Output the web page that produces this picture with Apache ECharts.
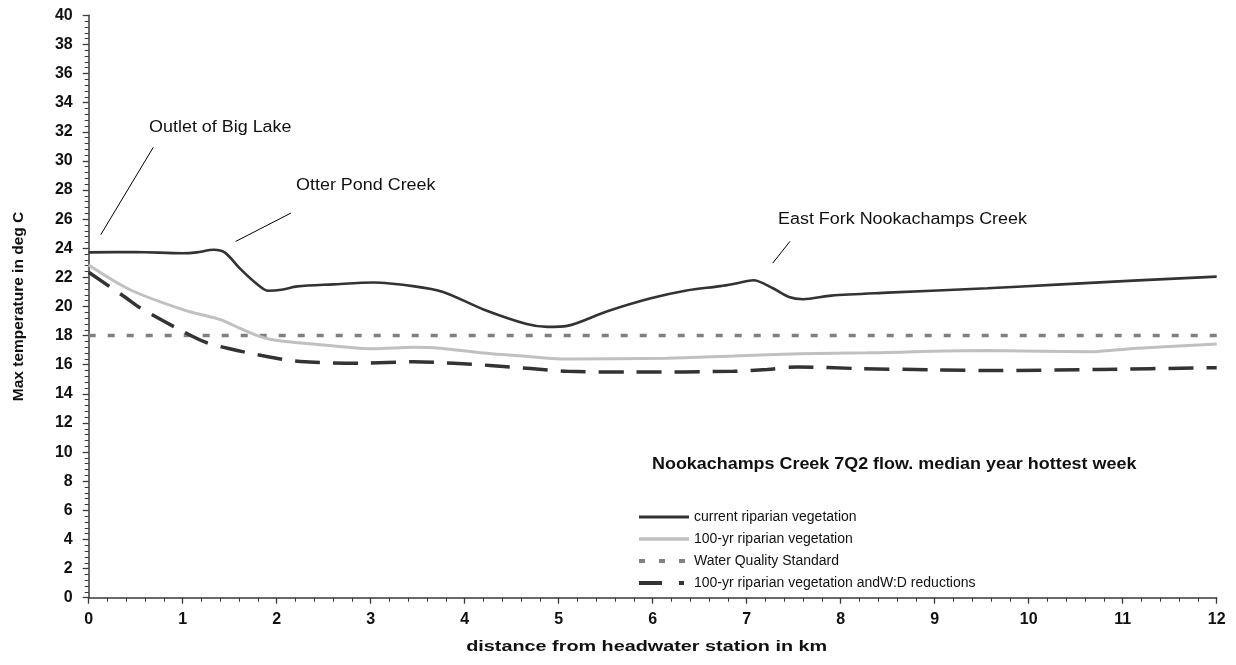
<!DOCTYPE html>
<html>
<head>
<meta charset="utf-8">
<script src="https://cdn.jsdelivr.net/npm/echarts@6/dist/echarts.min.js"></script>
<style>
  html, body { margin: 0; padding: 0; background: #fff; }
  #chart { width: 1236px; height: 665px; }
</style>
</head>
<body>
<div id="chart"></div>
<script>
// Max water temperature along Nookachamps Creek (km from headwater station, deg C)
const currentVeg = [
  [0, 23.72], [0.5, 23.74], [1.0, 23.66], [1.15, 23.72], [1.33, 23.9], [1.45, 23.7],
  [1.61, 22.6], [1.78, 21.6], [1.91, 21.08], [2.05, 21.15], [2.22, 21.38], [2.6, 21.52],
  [3.03, 21.65], [3.45, 21.4], [3.77, 21.0], [4.2, 19.8], [4.66, 18.8], [4.88, 18.6],
  [5.09, 18.67], [5.51, 19.66], [5.97, 20.55], [6.36, 21.1], [6.72, 21.4], [6.9, 21.6],
  [7.07, 21.8], [7.28, 21.25], [7.45, 20.65], [7.6, 20.5], [7.9, 20.75], [8.5, 20.95],
  [9.56, 21.25], [10.3, 21.5], [11.11, 21.78], [12, 22.05]
];
const veg100yr = [
  [0, 22.85], [0.44, 21.15], [1.01, 19.77], [1.4, 19.1], [1.61, 18.5], [1.84, 17.9],
  [2.03, 17.64], [2.5, 17.35], [3.03, 17.1], [3.45, 17.2], [3.74, 17.14], [4.2, 16.8],
  [4.7, 16.55], [5.09, 16.4], [6.15, 16.45], [6.86, 16.6], [7.57, 16.75], [8.28, 16.82],
  [9.56, 16.97], [10.69, 16.9], [11.11, 17.12], [12, 17.42]
];
const waterQualityStd = [[0, 18], [12, 18]];
const veg100yrWD = [
  [0, 22.35], [0.4, 20.58], [0.55, 19.9], [0.97, 18.4], [1.24, 17.55], [1.5, 17.1],
  [1.84, 16.63], [2.25, 16.22], [2.89, 16.1], [3.45, 16.2], [3.88, 16.1], [4.27, 15.95],
  [4.7, 15.74], [5.09, 15.55], [5.79, 15.5], [6.86, 15.55], [7.22, 15.68], [7.54, 15.85],
  [8.18, 15.74], [8.98, 15.65], [9.69, 15.6], [10.76, 15.68], [12, 15.8]
];
const seriesNames = [
  'current riparian vegetation',
  '100-yr riparian vegetation',
  'Water Quality Standard',
  '100-yr riparian vegetation andW:D reductions'
];
// place names with their leader lines (data coordinates)
const places = [
  { name: 'Outlet of Big Lake', text: [0.642, 32.26], line: [[0.128, 24.93], [0.687, 30.93]] },
  { name: 'Otter Pond Creek', text: [2.206, 28.32], line: [[1.564, 24.47], [2.152, 26.42]] },
  { name: 'East Fork Nookachamps Creek', text: [7.333, 25.96], line: [[7.277, 22.98], [7.46, 24.47]] }
];
const legendTitle = 'Nookachamps Creek 7Q2 flow. median year hottest week';
const xName = 'distance from headwater station in km';
const yName = 'Max temperature in deg C';

const FONT = '"Liberation Sans", Arial, sans-serif';
const AXIS_COLOR = '#3a3a3a';

const chart = echarts.init(document.getElementById('chart'), null, { renderer: 'canvas' });

function axisCommon() {
  return {
    type: 'value',
    axisLine: { show: true, lineStyle: { color: AXIS_COLOR, width: 1.5 } },
    axisTick: { show: true, length: 6, lineStyle: { color: AXIS_COLOR, width: 1.3 } },
    minorTick: { show: true, splitNumber: 5, length: 4, lineStyle: { color: AXIS_COLOR, width: 1 } },
    splitLine: { show: false },
    minorSplitLine: { show: false },
    axisLabel: { color: '#111', fontFamily: FONT, fontWeight: 'bold', fontSize: 16 },
    nameTextStyle: { color: '#111', fontFamily: FONT, fontWeight: 'bold', fontSize: 15.5 }
  };
}

const xAxis = Object.assign(axisCommon(), { min: 0, max: 12, interval: 1 });
xAxis.axisLabel = Object.assign({}, xAxis.axisLabel, { margin: 14 });

const yAxis = Object.assign(axisCommon(), {
  min: 0, max: 40, interval: 2,
  name: yName, nameLocation: 'middle', nameGap: 62
});
yAxis.axisLabel = Object.assign({}, yAxis.axisLabel, { margin: 16 });

// legend keys drawn a little heavier than the plotted lines
const legendKeys = [
  { name: seriesNames[0], lineStyle: { width: 3 } },
  { name: seriesNames[1], lineStyle: { width: 3.5 } },
  { name: seriesNames[2], lineStyle: { width: 4, type: [6, 14] } },
  { name: seriesNames[3], lineStyle: { width: 4, type: [23, 17, 5, 10] } }
];

const option = {
  animation: false,
  backgroundColor: '#ffffff',
  grid: { left: 88.7, right: 19.3, top: 15.3, bottom: 67.3, containLabel: false },
  xAxis: xAxis,
  yAxis: yAxis,
  legend: {
    orient: 'vertical',
    left: 632, top: 505,
    itemWidth: 50, itemHeight: 14, itemGap: 8,
    itemStyle: { opacity: 0 },
    textStyle: { fontFamily: FONT, fontSize: 14, color: '#111' },
    data: legendKeys
  },
  series: [
    {
      name: seriesNames[0], type: 'line', data: currentVeg, smooth: 0.3,
      symbol: 'none', lineStyle: { color: '#333333', width: 2.6 }, itemStyle: { color: '#333333' },
      z: 5,
      markLine: {
        silent: true, symbol: 'none', animation: false,
        label: { show: false },
        lineStyle: { color: '#000', width: 1, type: 'solid' },
        emphasis: { disabled: true },
        data: places.map(p => [{ coord: p.line[0] }, { coord: p.line[1] }])
      }
    },
    {
      name: seriesNames[1], type: 'line', data: veg100yr, smooth: 0.3,
      symbol: 'none', lineStyle: { color: '#c0c0c0', width: 3 }, itemStyle: { color: '#c0c0c0' },
      z: 3
    },
    {
      name: seriesNames[2], type: 'line', data: waterQualityStd,
      symbol: 'none', lineStyle: { color: '#808080', width: 3.5, type: [7, 12] },
      itemStyle: { color: '#808080' }, z: 2
    },
    {
      name: seriesNames[3], type: 'line', data: veg100yrWD, smooth: 0.3,
      symbol: 'none', lineStyle: { color: '#333333', width: 3.5, type: [25, 13] },
      itemStyle: { color: '#333333' }, z: 4
    }
  ]
};

chart.setOption(option);

// Place names, legend heading and x-axis title as slightly widened text
function textItem(str, x, y, weight, size, sx, align) {
  return {
    type: 'text', x: x, y: y, scaleX: sx, scaleY: 1, originX: 0, originY: 0, silent: true,
    style: {
      text: str, fill: '#111', font: weight + ' ' + size + 'px ' + FONT,
      textAlign: align || 'left', textVerticalAlign: 'middle'
    }
  };
}
const graphics = places.map(p => {
  const pt = chart.convertToPixel({ gridIndex: 0 }, p.text);
  return textItem(p.name, pt[0], pt[1], 'normal', 16, 1.12);
});
graphics.push(textItem(legendTitle, 652, 465, 'bold', 16, 1.12));
const gridRect = chart.getModel().getComponent('grid', 0).coordinateSystem.getRect();
graphics.push(textItem(xName, gridRect.x + gridRect.width / 2 - 6, 647, 'bold', 15, 1.32, 'center'));
chart.setOption({ graphic: graphics });
</script>
</body>
</html>
